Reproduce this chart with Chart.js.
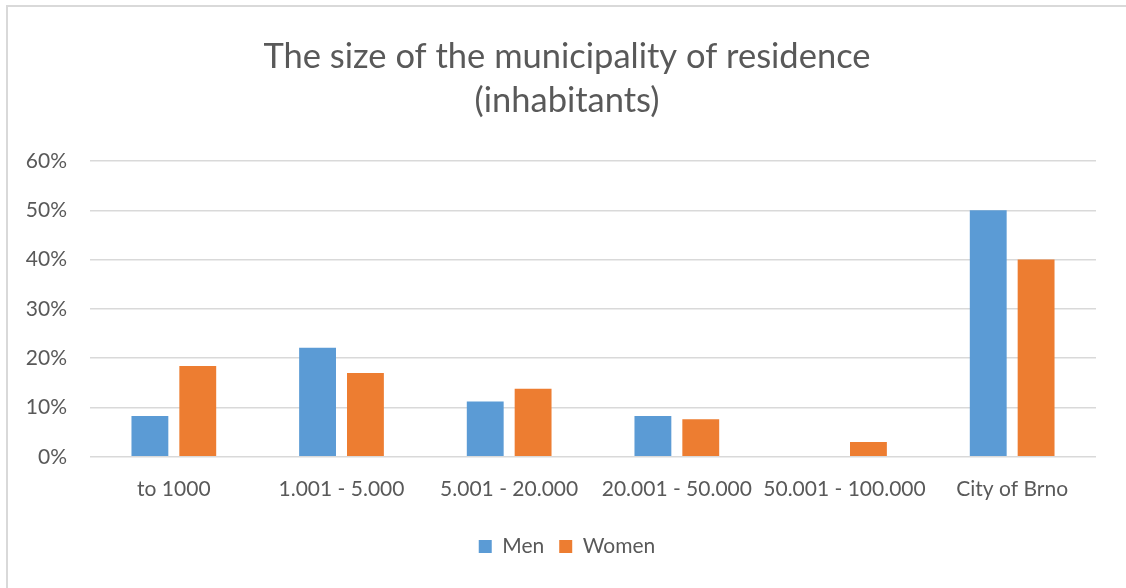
<!DOCTYPE html>
<html>
<head>
<meta charset="utf-8">
<script src="https://cdn.jsdelivr.net/npm/chart.js@4"></script>
<style>
  html, body { margin: 0; padding: 0; background: #fff; overflow: hidden; }
  #box {
    position: absolute; left: 6px; top: 5px; width: 1118px; height: 581px;
    border-left: 2px solid #d9d9d9; border-top: 2px solid #d9d9d9;
  }
</style>
</head>
<body>
<div id="box"><canvas id="chart"></canvas></div>
<script>
const categories = ['to 1000', '1.001 - 5.000', '5.001 - 20.000', '20.001 - 50.000', '50.001 - 100.000', 'City of Brno'];
const men = [8.3, 22.1, 11.2, 8.3, 0, 50];
const women = [18.4, 17.0, 13.8, 7.6, 3.0, 40];
const titleLines = ['The size of the municipality of residence', '(inhabitants)'];

const font = "Lato, 'Open Sans', sans-serif";
const grey = '#595959';

const ctx = document.getElementById('chart').getContext('2d');
new Chart(ctx, {
    type: 'bar',
    data: {
        labels: categories,
        datasets: [{
            label: 'Men',
            data: men,
            backgroundColor: '#5B9BD5',
            borderWidth: 0
        }, {
            label: 'Women',
            data: women,
            backgroundColor: '#ED7D31',
            borderWidth: 0
        }]
    },
    options: {
        responsive: true,
        maintainAspectRatio: false,
        animation: false,
        layout: {
            padding: { left: 30, right: 30, top: 0, bottom: 21 }
        },
        datasets: {
            bar: {
                categoryPercentage: 0.571,
                barPercentage: 0.77
            }
        },
        plugins: {
            title: {
                display: true,
                text: titleLines,
                color: grey,
                font: { family: font, size: 34.5, weight: 'normal', lineHeight: 1.275 },
                padding: { top: 28, bottom: 38 }
            },
            legend: {
                position: 'bottom',
                labels: {
                    color: grey,
                    font: { family: font, size: 21 },
                    boxWidth: 13,
                    boxHeight: 13,
                    padding: 15
                }
            },
            tooltip: { enabled: false }
        },
        scales: {
            y: {
                min: 0,
                max: 60,
                // narrow axis box so the title centres like the original; labels may spill left
                afterFit: scale => {
                    scale.width = 52;
                    scale._computeLabelArea = () => undefined;
                },
                ticks: {
                    stepSize: 10,
                    color: grey,
                    font: { family: font, size: 21 },
                    padding: 23,
                    callback: v => v + '%'
                },
                grid: { color: '#d9d9d9', lineWidth: 1.5, drawTicks: false },
                border: { display: false }
            },
            x: {
                ticks: {
                    color: grey,
                    font: { family: font, size: 21 },
                    padding: 19.5,
                    maxRotation: 0,
                    autoSkip: false
                },
                grid: { display: false, drawTicks: false },
                border: { display: false }
            }
        }
    }
});
</script>
</body>
</html>
